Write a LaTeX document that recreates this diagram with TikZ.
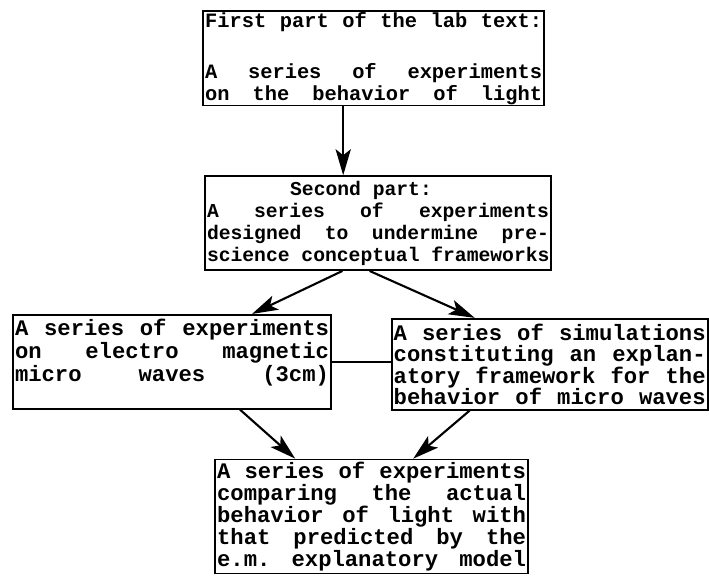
\documentclass[tikz,border=0pt]{standalone}
\usepackage{fontspec}
\setmonofont{Liberation Mono}
\usetikzlibrary{arrows.meta, positioning}

% one justified typewriter line
\newcommand{\jline}[1]{\leavevmode\hbox to\linewidth{\spaceskip=0.6em plus 1fil\xspaceskip=\spaceskip #1}}

\begin{document}
\begin{tikzpicture}[
  part/.style={draw, line width=1.2pt, inner xsep=0.05cm, inner ysep=0.03cm, align=left},
  flow/.style={-{Stealth[length=6.5mm, width=3.8mm, inset=1.5mm]}, line width=1.5pt},
  link/.style={line width=1.2pt}
]
\useasboundingbox (0,0) rectangle (17.725,-14.375);

\node[part, text width=8.425cm, minimum height=2.3cm,
  font=\ttfamily\bfseries\fontsize{14.5}{15.6}\selectfont] (labtext) at (9.34,-1.46)
  {\jline{First part of the lab text:}\\[0.72cm]
   \jline{A series of experiments}\\
   \jline{on the behavior of light}};
\node[part, below=1.72cm of labtext, xshift=0.11cm, text width=8.55cm, minimum height=2.35cm,
  font=\ttfamily\bfseries\fontsize{14}{15.6}\selectfont] (second)
  {\jline{\hfill Second part:\hfill\hskip0.85cm}\\
   \jline{A series of experiments}\\
   \jline{designed to undermine pre-}\\
   \jline{science conceptual frameworks}};
\node[part, below=1.075cm of second, xshift=-5.15cm, text width=7.85cm, minimum height=2.35cm,
  font=\ttfamily\bfseries\fontsize{15.8}{16.5}\selectfont] (waves)
  {\jline{A series of experiments}\\
   \jline{on electro magnetic}\\
   \jline{micro waves (3cm)}\\
   \mbox{}};
\node[part, right=1.475cm of waves, yshift=-0.06cm, text width=7.8cm, minimum height=2.275cm,
  font=\ttfamily\bfseries\fontsize{15.8}{15.3}\selectfont] (simul)
  {\jline{A series of simulations}\\
   \jline{constituting an explan-}\\
   \jline{atory framework for the}\\
   \jline{behavior of micro waves}};
\node[part, below=1.225cm of waves, xshift=4.99cm, text width=7.725cm, minimum height=2.85cm,
  font=\ttfamily\bfseries\fontsize{15.8}{15.6}\selectfont] (compare)
  {\jline{A series of experiments}\\
   \jline{comparing the actual}\\
   \jline{behavior of light with}\\
   \jline{that predicted by the}\\
   \jline{e.m. explanatory model}};

\draw[flow] ([xshift=-0.76cm]labtext.south) -- ([xshift=-0.76cm]labtext.south |- second.north);
\draw[flow] ([xshift=-0.89cm]second.south) -- ([xshift=2cm]waves.north);
\draw[flow] ([xshift=-0.21cm]second.south) -- ([xshift=-1.875cm]simul.north);
\draw[link] (waves.east) -- (waves.east -| simul.west);
\draw[flow] ([xshift=1.7cm]waves.south) -- ([xshift=-1.91cm]compare.north);
\draw[flow] ([xshift=-2cm]simul.south) -- ([xshift=1.04cm]compare.north);
\end{tikzpicture}
\end{document}
